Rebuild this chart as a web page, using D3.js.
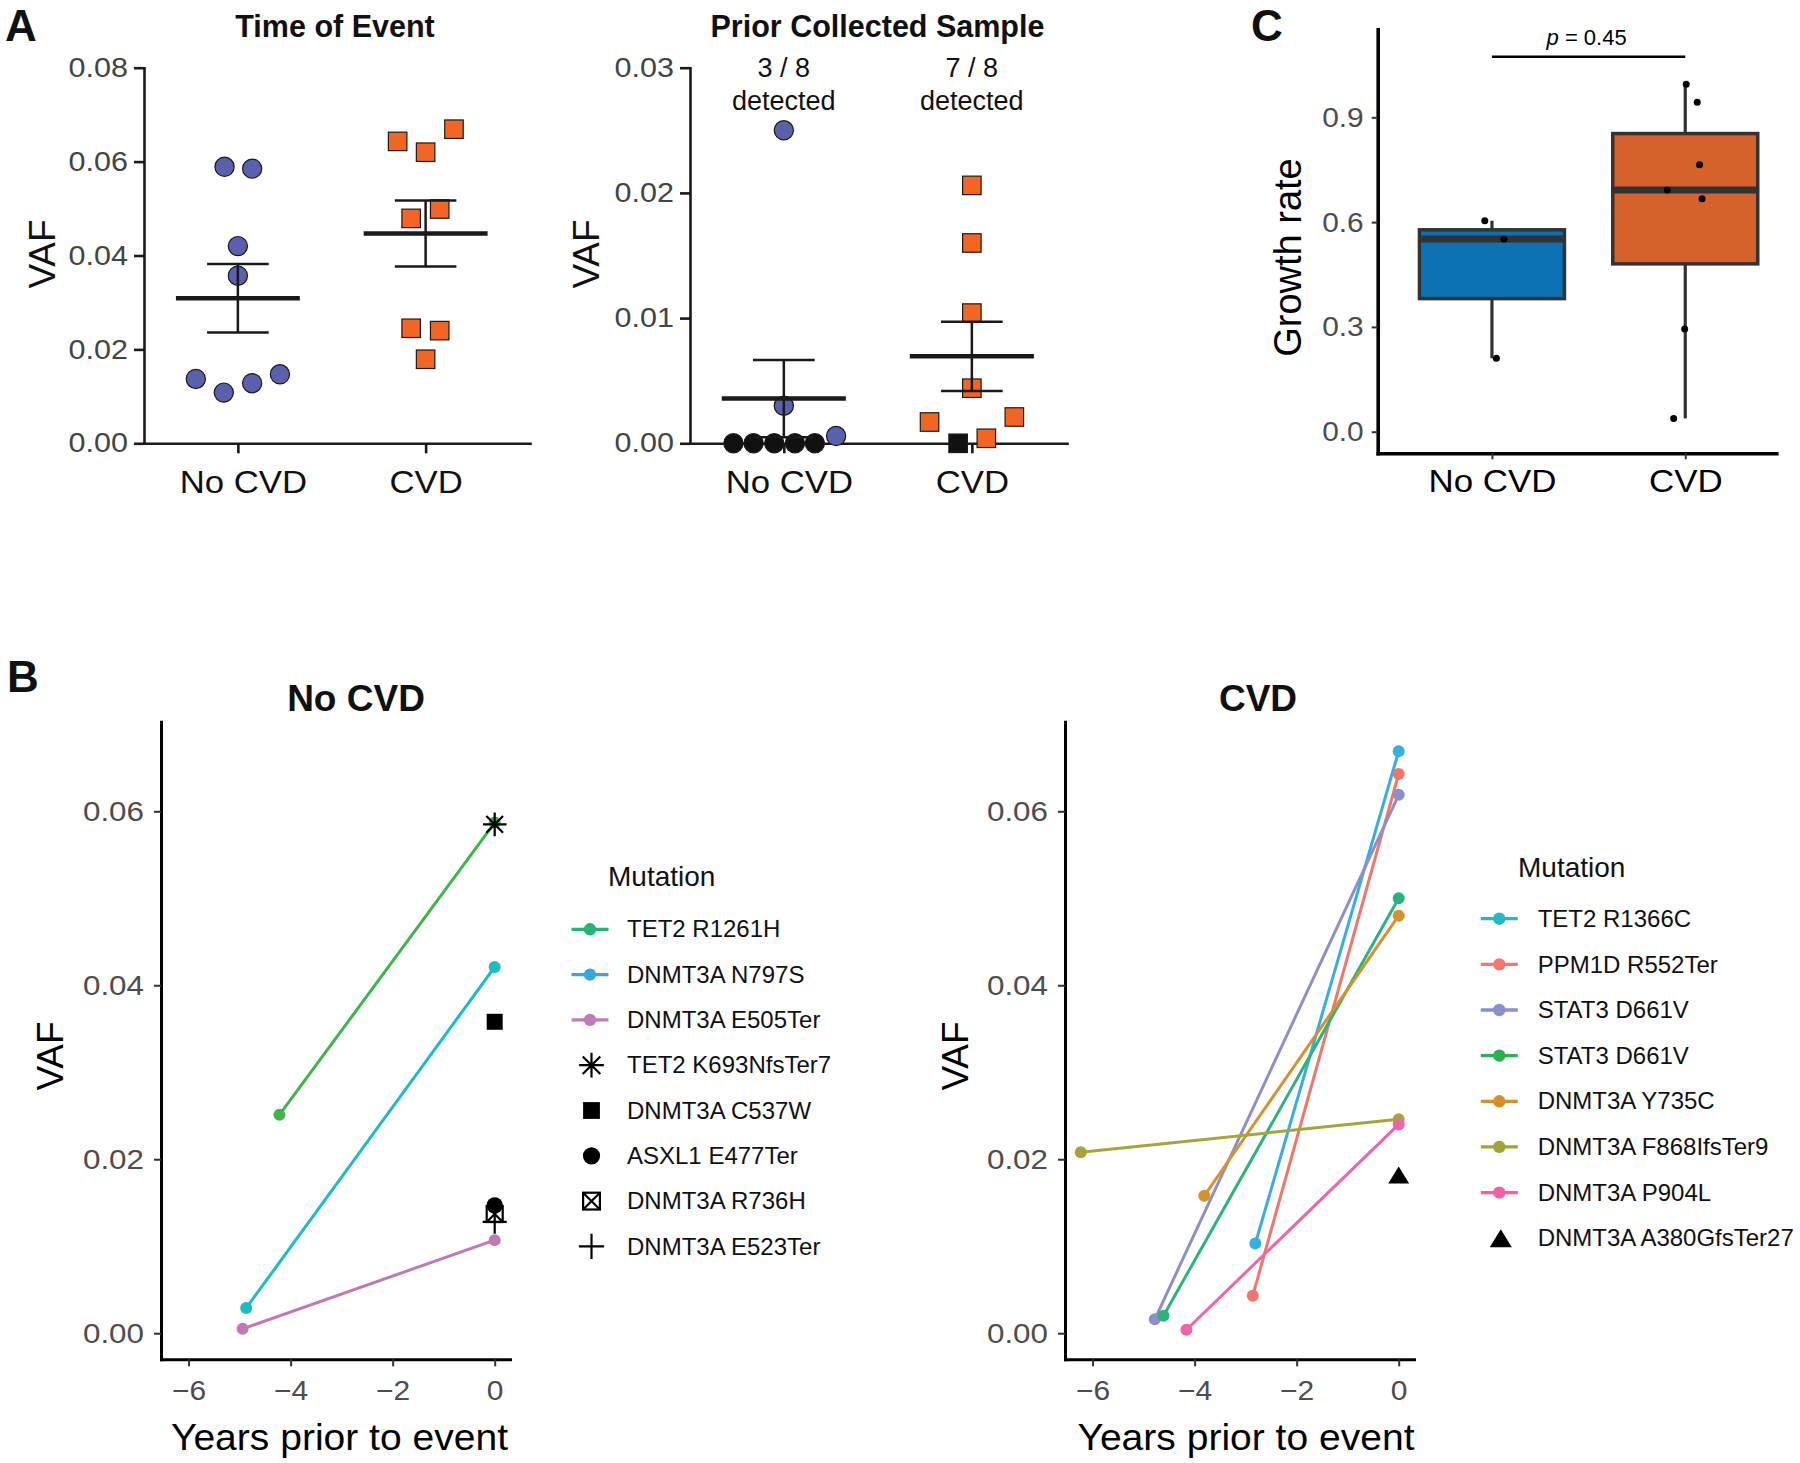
<!DOCTYPE html>
<html><head><meta charset="utf-8">
<script src="https://cdn.jsdelivr.net/npm/d3@7"></script>
<style>body{margin:0;background:#fff} svg{display:block}</style>
</head><body><svg id="fig" width="1800" height="1463"></svg>
<script>
// ================= DATA =================
const groups = ["No CVD", "CVD"];

// Panel A (left): VAF at time of event
const eventVafNoCvd    = [0.0589, 0.0585, 0.0420, 0.0357, 0.0137, 0.0108, 0.0128, 0.0147];
const eventJitterNoCvd = [-0.071, 0.076, 0, 0, -0.224, -0.075, 0.076, 0.224];
const eventVafCvd      = [0.0643, 0.0620, 0.0669, 0.0479, 0.0499, 0.0245, 0.0240, 0.0179];
const eventJitterCvd   = [-0.149, 0, 0.151, -0.077, 0.075, -0.077, 0.075, 0];
const eventTicks       = [0, 0.02, 0.04, 0.06, 0.08];

// Panel A (right): VAF in prior collected sample (0 = not detected)
const priorVafNoCvd    = [0.0250, 0.0030, 0.00058, 0, 0, 0, 0, 0];
const priorJitterNoCvd = [0, 0, 0.278, -0.268, -0.161, -0.051, 0.059, 0.165];
const priorVafCvd      = [0.0206, 0.0160, 0.0104, 0.0044, 0.0017, 0.0021, 0.0004, 0];
const priorJitterCvd   = [0, 0, 0, 0, -0.225, 0.226, 0.077, -0.073];
const priorTicks       = [0, 0.01, 0.02, 0.03];

// Panel B: trajectories (years prior to event, VAF)
const eventYear = 0;
const noCvdMutations  = ["TET2 R1261H", "DNMT3A N797S", "DNMT3A E505Ter", "TET2 K693NfsTer7",
                         "DNMT3A C537W", "ASXL1 E477Ter", "DNMT3A R736H", "DNMT3A E523Ter"];
const noCvdShapes     = ["line", "line", "line", "asterisk", "square", "circle", "squareX", "plus"];
const noCvdPriorYears = [-4.22, -4.87, -4.94, null, null, null, null, null];
const noCvdPriorVaf   = [0.0251, 0.0029, 0.0005, null, null, null, null, null];
const noCvdEventVaf   = [0.0587, 0.0421, 0.0107, 0.0585, 0.0358, 0.0147, 0.0137, 0.0128];

const cvdMutations  = ["TET2 R1366C", "PPM1D R552Ter", "STAT3 D661V", "STAT3 D661V",
                       "DNMT3A Y735C", "DNMT3A F868IfsTer9", "DNMT3A P904L", "DNMT3A A380GfsTer27"];
const cvdShapes     = ["line", "line", "line", "line", "line", "line", "line", "triangle"];
const cvdPriorYears = [-2.81, -2.86, -4.78, -4.61, -3.81, -6.23, -4.16, null];
const cvdPriorVaf   = [0.0103, 0.0043, 0.0016, 0.0020, 0.0158, 0.0208, 0.0004, null];
const cvdEventVaf   = [0.0669, 0.0643, 0.0619, 0.0500, 0.0480, 0.0246, 0.0240, 0.0182];
const yearTicks = [-6, -4, -2, 0];
const bVafTicks = [0, 0.02, 0.04, 0.06];

// Panel C: growth rate
const growthNoCvd       = [0.604, 0.552, 0.210];
const growthJitterNoCvd = [-0.037, 0.062, 0.023];
const growthCvd         = [0.995, 0.943, 0.764, 0.692, 0.667, 0.294, 0.038];
const growthJitterCvd   = [0.005, 0.062, 0.074, -0.093, 0.087, -0.003, -0.060];
const growthTicks       = [0, 0.3, 0.6, 0.9];
const pValue = "0.45";

// ================= STYLES =================
const FONT = '"Liberation Sans", Arial, Helvetica, sans-serif';
const PT_BLUE = "#5961ad", PT_ORANGE = "#f26522";
const BOX_FILLS = ["#0c72b3", "#d5612b"];
const noCvdLineColors   = ["#3db54a", "#1bbcc4", "#c178b7"];
const noCvdLegendColors = ["#26b373", "#35a8e0", "#c47aba"];
const cvdLineColors   = ["#35aee2", "#f4736a", "#8f8fc8", "#2ab47c", "#d6912b", "#a5a637", "#ec65a8"];
const cvdLegendColors = ["#1fbcc6", "#f4766d", "#8b8fcc", "#2bb24c", "#d88f26", "#a3a434", "#ee62a5"];

const svg = d3.select("#fig").attr("font-family", FONT);
svg.append("rect").attr("width", 1800).attr("height", 1463).attr("fill", "#fff");

function styleAxis(ax, o) {
  ax.attr("font-family", null).attr("font-size", null);
  ax.select(".domain").attr("stroke", o.line || "#1a1a1a").attr("stroke-width", o.lw)
    .attr("stroke-linecap", "square");
  ax.selectAll(".tick line").attr("stroke", o.tick || "#1a1a1a").attr("stroke-width", o.tw || o.lw);
  const t = ax.selectAll(".tick text").attr("fill", o.text).attr("font-size", o.fs).attr("font-family", FONT);
  if (o.stretch) stretch(t, o.stretch);
}
// widen glyphs horizontally (reference text is slightly wider than Liberation Sans)
function stretch(sel, k) {
  sel.each(function () {
    const L = this.getComputedTextLength();
    d3.select(this).attr("textLength", L * k).attr("lengthAdjust", "spacingAndGlyphs");
  });
}

// Panel letters
svg.append("text").attr("x", 5).attr("y", 40.7).attr("font-size", 44).attr("font-weight", "bold").attr("fill", "#111").text("A");
svg.append("text").attr("x", 7).attr("y", 692).attr("font-size", 44).attr("font-weight", "bold").attr("fill", "#111").text("B");
svg.append("text").attr("x", 1251).attr("y", 40.7).attr("font-size", 44).attr("font-weight", "bold").attr("fill", "#111").text("C");

// ================= PANEL A =================
function scatterPanel(cfg) {
  const g = svg.append("g");
  const y = d3.scaleLinear().domain([0, d3.max(cfg.ticks)]).range([443.3, 67.7]);
  const x = d3.scaleLinear().domain(cfg.xDomain).range(cfg.xRange);
  const ya = g.append("g").attr("transform", `translate(${cfg.xRange[0]},0)`)
    .call(d3.axisLeft(y).tickValues(cfg.ticks).tickFormat(d3.format(".2f")).tickSize(10).tickSizeOuter(0).tickPadding(6));
  styleAxis(ya, {lw: 2.6, text: "#444", fs: 27, stretch: 1.13});
  const xa = g.append("g").attr("transform", `translate(0,${y(0)})`)
    .call(d3.axisBottom(x).tickValues([0, 1]).tickFormat(i => groups[i]).tickSize(10).tickSizeOuter(0).tickPadding(17));
  styleAxis(xa, {lw: 2.6, text: "#111", fs: 32, stretch: 1.085});
  xa.selectAll(".tick text").attr("dx", (d, i) => i === 0 ? 5 : 0);

  g.append("text").attr("transform", `translate(${cfg.vafX},254) rotate(-90)`)
    .attr("text-anchor", "middle").attr("font-size", 37).attr("fill", "#111").text("VAF");
  g.append("text").attr("x", cfg.titleX).attr("y", 36.7).attr("text-anchor", "middle")
    .attr("font-size", 30.5).attr("font-weight", "bold").attr("fill", "#111").text(cfg.title);

  cfg.series.forEach((s, gi) => {
    const pts = s.values.map((v, i) => ({v, j: s.jitter[i]}));
    const fill = d => d.v === 0 ? "#111" : (gi === 0 ? PT_BLUE : PT_ORANGE);
    if (gi === 0) {
      g.append("g").selectAll("circle").data(pts).join("circle")
        .attr("cx", d => x(gi + d.j)).attr("cy", d => y(d.v)).attr("r", 9.6)
        .attr("fill", fill).attr("stroke", "#1a1a1a").attr("stroke-width", 1.2);
    } else {
      const side = 18.5;
      g.append("g").selectAll("rect").data(pts).join("rect")
        .attr("x", d => x(gi + d.j) - side / 2).attr("y", d => y(d.v) - side / 2)
        .attr("width", side).attr("height", side)
        .attr("fill", fill).attr("stroke", "#1a1a1a").attr("stroke-width", 1.2);
    }
    if (cfg.detected) {
      const n = s.values.length, k = s.values.filter(v => v > 0).length;
      g.append("text").attr("x", x(gi)).attr("y", 76.7).attr("text-anchor", "middle")
        .attr("font-size", 27).attr("fill", "#111").text(`${k} / ${n}`);
      g.append("text").attr("x", x(gi)).attr("y", 110).attr("text-anchor", "middle")
        .attr("font-size", 27).attr("fill", "#111").text("detected");
    }
  });
  // mean +/- SEM
  cfg.series.forEach((s, gi) => {
    const m = d3.mean(s.values), sem = d3.deviation(s.values) / Math.sqrt(s.values.length);
    const eg = g.append("g").attr("stroke", "#1a1a1a").attr("fill", "none");
    eg.append("line").attr("x1", x(gi - 0.33)).attr("x2", x(gi + 0.33)).attr("y1", y(m)).attr("y2", y(m)).attr("stroke-width", 4.6);
    eg.append("line").attr("x1", x(gi)).attr("x2", x(gi)).attr("y1", y(m - sem)).attr("y2", y(m + sem)).attr("stroke-width", 2.5);
    [m - sem, m + sem].forEach(v => eg.append("line").attr("x1", x(gi - 0.164)).attr("x2", x(gi + 0.164))
      .attr("y1", y(v)).attr("y2", y(v)).attr("stroke-width", 2.5));
  });
}

scatterPanel({
  title: "Time of Event", titleX: 335, vafX: 55, ticks: eventTicks,
  xDomain: [-0.5, 1.556], xRange: [144, 530],
  series: [{values: eventVafNoCvd, jitter: eventJitterNoCvd}, {values: eventVafCvd, jitter: eventJitterCvd}]
});
scatterPanel({
  title: "Prior Collected Sample", titleX: 877.5, vafX: 598.5, ticks: priorTicks, detected: true,
  xDomain: [-0.499, 1.506], xRange: [690, 1067],
  series: [{values: priorVafNoCvd, jitter: priorJitterNoCvd}, {values: priorVafCvd, jitter: priorJitterCvd}]
});

// ================= PANEL C =================
(function () {
  const g = svg.append("g");
  const y = d3.scaleLinear().domain([-0.0618, 1.152]).range([453.3, 29.3]);
  const x = d3.scaleLinear().domain([-0.591, 1.471]).range([1377.7, 1776.3]);
  const ya = g.append("g").attr("transform", `translate(${x.range()[0]},0)`)
    .call(d3.axisLeft(y).tickValues(growthTicks).tickFormat(d3.format(".1f")).tickSize(6).tickSizeOuter(0).tickPadding(8));
  styleAxis(ya, {lw: 3.6, line: "#000", tick: "#333", tw: 2, text: "#4d4d4d", fs: 28, stretch: 1.067});
  const xa = g.append("g").attr("transform", `translate(0,${y.range()[0]})`)
    .call(d3.axisBottom(x).tickValues([0, 1]).tickFormat(i => groups[i]).tickSize(6).tickSizeOuter(0).tickPadding(9.5));
  styleAxis(xa, {lw: 3.6, line: "#000", tick: "#333", tw: 2, text: "#000", fs: 32, stretch: 1.09});
  g.append("text").attr("transform", `translate(1301,257.5) rotate(-90)`).attr("text-anchor", "middle")
    .attr("font-size", 38).attr("fill", "#000").text("Growth rate");

  const sets = [{v: growthNoCvd, j: growthJitterNoCvd}, {v: growthCvd, j: growthJitterCvd}];
  sets.forEach((s, gi) => {
    const srt = s.v.slice().sort(d3.ascending);
    const q1 = d3.quantileSorted(srt, 0.25), med = d3.quantileSorted(srt, 0.5), q3 = d3.quantileSorted(srt, 0.75);
    const iqr = q3 - q1;
    const lo = d3.min(srt.filter(v => v >= q1 - 1.5 * iqr)), hi = d3.max(srt.filter(v => v <= q3 + 1.5 * iqr));
    const bg = g.append("g");
    bg.append("line").attr("x1", x(gi)).attr("x2", x(gi)).attr("y1", y(hi)).attr("y2", y(q3)).attr("stroke", "#333").attr("stroke-width", 3.2);
    bg.append("line").attr("x1", x(gi)).attr("x2", x(gi)).attr("y1", y(q1)).attr("y2", y(lo)).attr("stroke", "#333").attr("stroke-width", 3.2);
    bg.append("rect").attr("x", x(gi - 0.375)).attr("width", x(gi + 0.375) - x(gi - 0.375))
      .attr("y", y(q3)).attr("height", y(q1) - y(q3)).attr("fill", BOX_FILLS[gi]).attr("stroke", "#333").attr("stroke-width", 3.5);
    bg.append("line").attr("x1", x(gi - 0.375)).attr("x2", x(gi + 0.375)).attr("y1", y(med)).attr("y2", y(med))
      .attr("stroke", "#333").attr("stroke-width", 7);
    bg.selectAll("circle").data(s.v.map((v, i) => ({v, j: s.j[i]}))).join("circle")
      .attr("cx", d => x(gi + d.j)).attr("cy", d => y(d.v)).attr("r", 3.5).attr("fill", "#000");
  });
  // significance bracket
  const yb = 56.7;
  g.append("line").attr("x1", x(0)).attr("x2", x(1)).attr("y1", yb).attr("y2", yb).attr("stroke", "#000").attr("stroke-width", 2.4);
  const t = g.append("text").attr("x", (x(0) + x(1)) / 2 - 2).attr("y", 45).attr("text-anchor", "middle")
    .attr("font-size", 22).attr("fill", "#000");
  t.append("tspan").attr("font-style", "italic").text("p");
  t.append("tspan").text(" = " + pValue);
})();

// ================= PANEL B =================
function drawSymbol(g, shape, cx, cy, k) {
  const c = "#000";
  if (shape === "asterisk") {
    const r = 11.8 * k, d = r * Math.SQRT1_2;
    g.append("path").attr("d", `M${cx - r},${cy}H${cx + r}M${cx},${cy - r}V${cy + r}M${cx - d},${cy - d}L${cx + d},${cy + d}M${cx - d},${cy + d}L${cx + d},${cy - d}`)
      .attr("stroke", c).attr("stroke-width", 2.2).attr("fill", "none");
  } else if (shape === "square") {
    const s = 16 * k;
    g.append("rect").attr("x", cx - s / 2).attr("y", cy - s / 2).attr("width", s).attr("height", s).attr("fill", c);
  } else if (shape === "circle") {
    g.append("circle").attr("cx", cx).attr("cy", cy).attr("r", 8.2 * k).attr("fill", c);
  } else if (shape === "squareX") {
    const h = 8 * k;
    g.append("rect").attr("x", cx - h).attr("y", cy - h).attr("width", 2 * h).attr("height", 2 * h)
      .attr("fill", "none").attr("stroke", c).attr("stroke-width", 2.2);
    g.append("path").attr("d", `M${cx - h},${cy - h}L${cx + h},${cy + h}M${cx - h},${cy + h}L${cx + h},${cy - h}`)
      .attr("stroke", c).attr("stroke-width", 2.2);
  } else if (shape === "plus") {
    const r = 12 * k;
    g.append("path").attr("d", `M${cx - r},${cy}H${cx + r}M${cx},${cy - r}V${cy + r}`).attr("stroke", c).attr("stroke-width", 2.2);
  } else if (shape === "triangle") {
    const w = 10.5 * k, h = 17 * k;
    g.append("path").attr("d", `M${cx},${cy - h / 2}L${cx + w},${cy + h / 2}L${cx - w},${cy + h / 2}Z`).attr("fill", c);
  }
}

function linePanel(cfg) {
  const g = svg.append("g");
  const x = d3.scaleLinear().domain([-6.54, 0.30]).range([cfg.left, cfg.left + 349]);
  const y = d3.scaleLinear().domain([-0.003, 0.0703]).range([1359.3, 721.7]);
  const ya = g.append("g").attr("transform", `translate(${cfg.left},0)`)
    .call(d3.axisLeft(y).tickValues(bVafTicks).tickFormat(d3.format(".2f")).tickSize(7).tickSizeOuter(0).tickPadding(10));
  styleAxis(ya, {lw: 3, line: "#000", tick: "#333", tw: 2, text: "#4d4d4d", fs: 28, stretch: 1.12});
  const xa = g.append("g").attr("transform", `translate(0,${y.range()[0]})`)
    .call(d3.axisBottom(x).tickValues(yearTicks).tickFormat(d3.format("d")).tickSize(7).tickSizeOuter(0).tickPadding(14));
  styleAxis(xa, {lw: 3, line: "#000", tick: "#333", tw: 2, text: "#4d4d4d", fs: 28, stretch: 1.07});

  g.append("text").attr("transform", `translate(${cfg.vafX},1056) rotate(-90)`).attr("text-anchor", "middle")
    .attr("font-size", 37).attr("fill", "#000").text("VAF");
  g.append("text").attr("x", cfg.titleX).attr("y", 711).attr("text-anchor", "middle")
    .attr("font-size", 37).attr("font-weight", "bold").attr("fill", "#111").text(cfg.title);
  const xl = g.append("text").attr("x", cfg.xLabelX).attr("y", 1450).attr("text-anchor", "middle")
    .attr("font-size", 37).attr("fill", "#000").text("Years prior to event");
  stretch(xl, 1.055);

  const line = d3.line();
  cfg.mutations.forEach((m, i) => {
    if (cfg.priorYears[i] == null) return;
    const pts = [[x(cfg.priorYears[i]), y(cfg.priorVaf[i])], [x(eventYear), y(cfg.eventVaf[i])]];
    const col = cfg.colors[i];
    g.append("path").attr("d", line(pts)).attr("stroke", col).attr("stroke-width", 3).attr("fill", "none");
    pts.forEach(p => g.append("circle").attr("cx", p[0]).attr("cy", p[1]).attr("r", 6).attr("fill", col));
  });
  cfg.mutations.forEach((m, i) => {
    if (cfg.priorYears[i] != null) return;
    drawSymbol(g, cfg.shapes[i], x(eventYear), y(cfg.eventVaf[i]), 1);
  });
}

function legend(cfg) {
  const g = svg.append("g");
  g.append("text").attr("x", cfg.titleX).attr("y", cfg.titleY).attr("font-size", 28).attr("fill", "#111").text("Mutation");
  cfg.mutations.forEach((m, i) => {
    const cy = cfg.rowY + i * cfg.step;
    if (cfg.shapes[i] === "line") {
      g.append("line").attr("x1", cfg.symX - 18.5).attr("x2", cfg.symX + 18.5).attr("y1", cy).attr("y2", cy)
        .attr("stroke", cfg.colors[i]).attr("stroke-width", 3.3);
      g.append("circle").attr("cx", cfg.symX).attr("cy", cy).attr("r", 6.2).attr("fill", cfg.colors[i]);
    } else {
      drawSymbol(g, cfg.shapes[i], cfg.symX + 1.5, cy, 1.05);
    }
    g.append("text").attr("x", cfg.textX).attr("y", cy).attr("dy", "0.34em").attr("font-size", 24)
      .attr("fill", "#111").text(m);
  });
}

linePanel({
  title: "No CVD", titleX: 356, left: 161, vafX: 62.5, xLabelX: 339.5,
  mutations: noCvdMutations, shapes: noCvdShapes, priorYears: noCvdPriorYears,
  priorVaf: noCvdPriorVaf, eventVaf: noCvdEventVaf, colors: noCvdLineColors
});
linePanel({
  title: "CVD", titleX: 1258, left: 1065, vafX: 968, xLabelX: 1246,
  mutations: cvdMutations, shapes: cvdShapes, priorYears: cvdPriorYears,
  priorVaf: cvdPriorVaf, eventVaf: cvdEventVaf, colors: cvdLineColors
});
legend({
  mutations: noCvdMutations, shapes: noCvdShapes, colors: noCvdLegendColors,
  titleX: 608, titleY: 886, rowY: 929.3, step: 45.3, symX: 590, textX: 627
});
legend({
  mutations: cvdMutations, shapes: cvdShapes, colors: cvdLegendColors,
  titleX: 1518, titleY: 877.3, rowY: 918.7, step: 45.65, symX: 1499.3, textX: 1537.7
});
</script>
</body></html>
